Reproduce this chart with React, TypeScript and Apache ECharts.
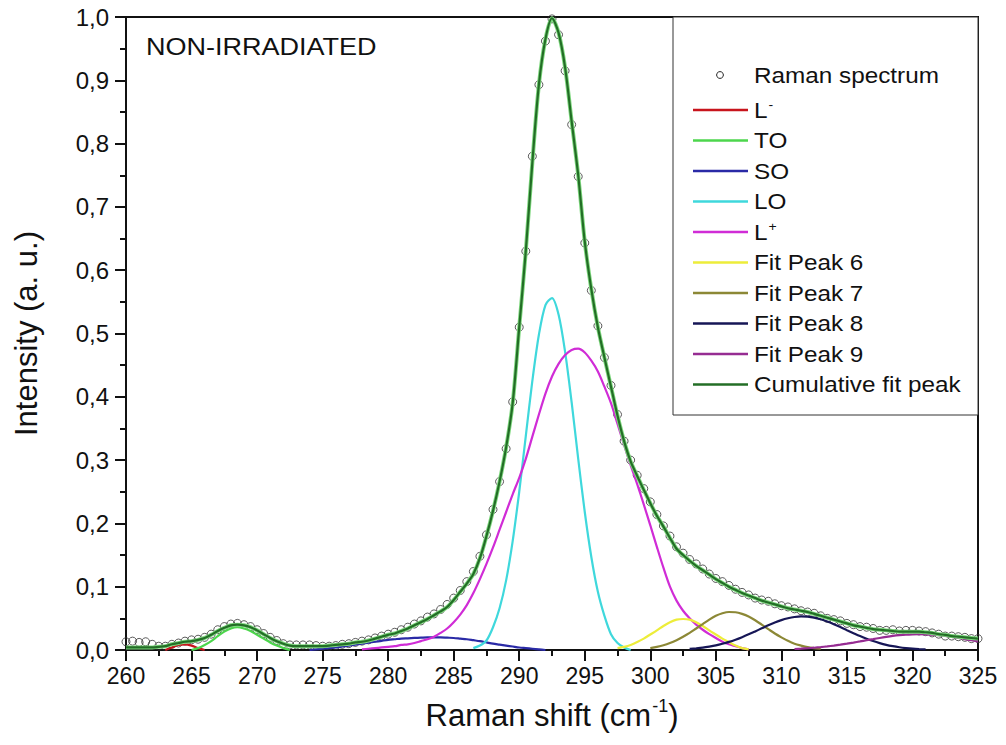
import { useEffect, useRef } from 'react';
import * as echarts from 'echarts';

const STEP = 0.5;

const xTicks = [260, 265, 270, 275, 280, 285, 290, 295, 300, 305, 310, 315, 320, 325];
const yTicks = [0, 0.1, 0.2, 0.3, 0.4, 0.5, 0.6, 0.7, 0.8, 0.9, 1.0];

// Raman spectrum (open circles), sampled every 0.5 cm-1 from 260
const ramanStart = 260;
const ramanSpectrum = [
  0.013, 0.014, 0.012, 0.013, 0.009, 0.006, 0.006, 0.009, 0.011, 0.014,
  0.016, 0.017, 0.020, 0.025, 0.032, 0.037, 0.041, 0.042, 0.040, 0.037,
  0.032, 0.026, 0.020, 0.015, 0.010, 0.008, 0.008, 0.008, 0.008, 0.007,
  0.006, 0.006, 0.007, 0.009, 0.010, 0.012, 0.014, 0.016, 0.019, 0.022,
  0.025, 0.028, 0.032, 0.036, 0.041, 0.046, 0.052, 0.057, 0.064, 0.072,
  0.082, 0.094, 0.108, 0.124, 0.148, 0.182, 0.222, 0.266, 0.318, 0.392,
  0.510, 0.630, 0.780, 0.893, 0.962, 0.997, 0.972, 0.915, 0.830, 0.748,
  0.643, 0.568, 0.512, 0.462, 0.418, 0.372, 0.330, 0.300, 0.276, 0.255,
  0.234, 0.214, 0.196, 0.180, 0.163, 0.153, 0.143, 0.136, 0.128, 0.120,
  0.113, 0.108, 0.102, 0.096, 0.091, 0.087, 0.082, 0.079, 0.077, 0.073,
  0.070, 0.068, 0.065, 0.062, 0.060, 0.058, 0.054, 0.050, 0.048, 0.046,
  0.042, 0.040, 0.037, 0.036, 0.034, 0.031, 0.031, 0.032, 0.030, 0.031,
  0.031, 0.030, 0.029, 0.027, 0.025, 0.022, 0.022, 0.021, 0.020, 0.018,
  0.018,
];

// Cumulative fit peak
const cumulativeStart = 260;
const cumulativeFit = [
  0.004, 0.004, 0.004, 0.004, 0.004, 0.005, 0.006, 0.009, 0.011, 0.013,
  0.014, 0.016, 0.019, 0.024, 0.030, 0.035, 0.039, 0.040, 0.039, 0.036,
  0.031, 0.025, 0.019, 0.014, 0.010, 0.007, 0.006, 0.006, 0.006, 0.006,
  0.006, 0.007, 0.008, 0.009, 0.010, 0.012, 0.013, 0.015, 0.018, 0.021,
  0.024, 0.026, 0.030, 0.034, 0.039, 0.044, 0.049, 0.055, 0.061, 0.068,
  0.079, 0.092, 0.105, 0.120, 0.145, 0.180, 0.220, 0.266, 0.320, 0.390,
  0.510, 0.630, 0.770, 0.893, 0.965, 0.998, 0.975, 0.920, 0.835, 0.750,
  0.645, 0.570, 0.510, 0.462, 0.416, 0.370, 0.330, 0.298, 0.275, 0.253,
  0.232, 0.212, 0.195, 0.177, 0.160, 0.150, 0.141, 0.133, 0.126, 0.119,
  0.112, 0.106, 0.100, 0.095, 0.090, 0.086, 0.082, 0.078, 0.075, 0.072,
  0.069, 0.066, 0.064, 0.062, 0.060, 0.057, 0.054, 0.051, 0.048, 0.045,
  0.042, 0.039, 0.037, 0.035, 0.033, 0.032, 0.031, 0.030, 0.029, 0.029,
  0.029, 0.029, 0.028, 0.027, 0.025, 0.024, 0.022, 0.021, 0.020, 0.019,
  0.018,
];

// Fitted component peaks (start position, values every 0.5 cm-1)
const lMinusStart = 263;
const lMinus = [0, 0.004, 0.008, 0.009, 0.007, 0.003, 0];

const toStart = 265;
const toPeak = [0, 0.003, 0.008, 0.014, 0.022, 0.029, 0.034, 0.036, 0.034, 0.030, 0.024, 0.018, 0.012, 0.007, 0.003, 0];

const soStart = 274;
const soPeak = [
  0, 0.001, 0.002, 0.003, 0.004, 0.0055, 0.007, 0.0085, 0.010, 0.0115,
  0.013, 0.0145, 0.016, 0.017, 0.018, 0.0185, 0.019, 0.0195, 0.020, 0.020,
  0.020, 0.0195, 0.019, 0.018, 0.017, 0.0155, 0.014, 0.012, 0.010, 0.0085,
  0.007, 0.0055, 0.004, 0.003, 0.002, 0.001, 0,
];

const loStart = 286.5;
const loPeak = [
  0.003, 0.007, 0.015, 0.036, 0.066, 0.110, 0.172, 0.250, 0.338, 0.425,
  0.498, 0.545, 0.556, 0.530, 0.471, 0.391, 0.302, 0.218, 0.147, 0.092,
  0.054, 0.025, 0.011, 0.004, 0,
];

const lPlusStart = 278;
const lPlusPeak = [
  0.001, 0.002, 0.003, 0.004, 0.005, 0.006, 0.008, 0.009, 0.011, 0.014,
  0.017, 0.021, 0.027, 0.034, 0.044, 0.056, 0.071, 0.090, 0.112, 0.136,
  0.162, 0.190, 0.218, 0.246, 0.272, 0.302, 0.337, 0.372, 0.405, 0.432,
  0.452, 0.466, 0.474, 0.476, 0.470, 0.457, 0.440, 0.416, 0.390, 0.357,
  0.324, 0.292, 0.262, 0.230, 0.197, 0.163, 0.130, 0.100, 0.078, 0.062,
  0.050, 0.040, 0.032, 0.025, 0.019, 0.013, 0.009, 0.006, 0.003, 0.001,
];

const peak6Start = 297.5;
const peak6 = [
  0.003, 0.005, 0.008, 0.0125, 0.018, 0.0245, 0.031, 0.038, 0.044, 0.048,
  0.049, 0.048, 0.044, 0.038, 0.031, 0.0245, 0.018, 0.0125, 0.007, 0.003,
  0.001,
];

const peak7Start = 300;
const peak7 = [
  0.003, 0.005, 0.0075, 0.011, 0.0155, 0.021, 0.027, 0.034, 0.041, 0.048,
  0.054, 0.058, 0.060, 0.0596, 0.057, 0.053, 0.047, 0.040, 0.033, 0.026,
  0.020, 0.0145, 0.010, 0.007, 0.0045, 0.003, 0.002,
];

const peak8Start = 303;
const peak8 = [
  0.0018, 0.0027, 0.0038, 0.0054, 0.0073, 0.0098, 0.0128, 0.0163, 0.0203, 0.0247,
  0.0294, 0.0342, 0.039, 0.0434, 0.0472, 0.0501, 0.0521, 0.053, 0.0526, 0.0511,
  0.0485, 0.045, 0.0408, 0.0362, 0.0313, 0.0266, 0.022, 0.0178, 0.0141, 0.0109,
  0.0082, 0.0061, 0.0044, 0.0031, 0.0021, 0.0014, 0.0009,
];

const peak9Start = 311;
const peak9 = [
  0.0016, 0.0021, 0.0028, 0.0036, 0.0046, 0.0057, 0.007, 0.0084, 0.010, 0.0117,
  0.0135, 0.0154, 0.0172, 0.019, 0.0207, 0.0222, 0.0234, 0.0243, 0.0248, 0.025,
  0.0248, 0.0243, 0.0234, 0.0222, 0.0207, 0.019, 0.0172, 0.0154, 0.0135,
];

const FONT = "'Liberation Sans', Arial, Helvetica, sans-serif";

const toPairs = (start: number, vals: number[]) => vals.map((v, i) => [start + i * STEP, v]);

type Comp = { name: string; rich: string; color: string; start: number; values: number[] };

const components: Comp[] = [
  { name: 'L-', rich: '{t|L}{s|-}', color: '#c8141c', start: lMinusStart, values: lMinus },
  { name: 'TO', rich: '{t|TO}', color: '#4cd64c', start: toStart, values: toPeak },
  { name: 'SO', rich: '{t|SO}', color: '#2a2aa6', start: soStart, values: soPeak },
  { name: 'LO', rich: '{t|LO}', color: '#3fd8dc', start: loStart, values: loPeak },
  { name: 'L+', rich: '{t|L}{s|+}', color: '#d02cd6', start: lPlusStart, values: lPlusPeak },
  { name: 'Fit Peak 6', rich: '{t|Fit Peak 6}', color: '#eded3a', start: peak6Start, values: peak6 },
  { name: 'Fit Peak 7', rich: '{t|Fit Peak 7}', color: '#8c8836', start: peak7Start, values: peak7 },
  { name: 'Fit Peak 8', rich: '{t|Fit Peak 8}', color: '#161656', start: peak8Start, values: peak8 },
  { name: 'Fit Peak 9', rich: '{t|Fit Peak 9}', color: '#962c92', start: peak9Start, values: peak9 },
];

const cumulativeColor = '#236e26';

export default function App() {
  const ref = useRef<HTMLDivElement>(null);

  useEffect(() => {
    if (!ref.current) return;
    const chart = echarts.init(ref.current, null, { renderer: 'svg' });

    const legendX = 673;
    const legendTop = 17;
    const lineX1 = 693;
    const lineX2 = 748;
    const textX = 754;
    const rowStart = 110;
    const rowGap = 30.5;
    const legendFont = 22.5;
    const legendStretch = 1.08;

    const richStyle = {
      t: { fontSize: legendFont, fontFamily: FONT, fill: '#111', color: '#111' },
      s: { fontSize: 13, fontFamily: FONT, fill: '#111', color: '#111', verticalAlign: 'top', padding: [0, 0, 8, 1] },
    };

    const legendEls: any[] = [
      {
        type: 'rect',
        shape: { x: legendX, y: legendTop, width: 978 - legendX, height: 398 },
        style: { fill: '#fff', stroke: '#333', lineWidth: 1 },
        z: 10,
      },
      {
        type: 'circle',
        shape: { cx: 720, cy: 75, r: 3.4 },
        style: { fill: '#fff', stroke: '#222', lineWidth: 1 },
        z: 11,
      },
      {
        type: 'text',
        x: textX,
        y: 75,
        scaleX: legendStretch,
        style: { text: 'Raman spectrum', fontSize: legendFont, fontFamily: FONT, fill: '#111', verticalAlign: 'middle' },
        z: 11,
      },
    ];

    const allRows = [
      ...components.map((c) => ({ rich: c.rich, color: c.color })),
      { rich: '{t|Cumulative fit peak}', color: cumulativeColor },
    ];
    allRows.forEach((r, i) => {
      const y = rowStart + i * rowGap;
      legendEls.push({
        type: 'line',
        shape: { x1: lineX1, y1: y, x2: lineX2, y2: y },
        style: { stroke: r.color, lineWidth: 2.5 },
        z: 11,
      });
      legendEls.push({
        type: 'text',
        x: textX,
        y: y,
        scaleX: legendStretch,
        style: { text: r.rich, rich: richStyle, verticalAlign: 'middle', fill: '#111' },
        z: 11,
      });
    });

    legendEls.push({
      type: 'text',
      x: 146,
      y: 47,
      scaleX: 1.15,
      style: { text: 'NON-IRRADIATED', fontSize: 23.5, fontFamily: FONT, fill: '#111', verticalAlign: 'middle' },
      z: 11,
    });

    const series: any[] = [
      {
        name: 'Raman spectrum',
        type: 'scatter',
        data: toPairs(ramanStart, ramanSpectrum),
        symbol: 'circle',
        symbolSize: 8,
        itemStyle: { color: 'rgba(255,255,255,0)', borderColor: '#333', borderWidth: 1 },
        z: 2,
      },
      ...components.map((c) => ({
        name: c.name,
        type: 'line',
        data: toPairs(c.start, c.values),
        showSymbol: false,
        smooth: 0.3,
        lineStyle: { color: c.color, width: 2.2 },
        z: 3,
      })),
      {
        name: 'Cumulative halo',
        type: 'line',
        data: toPairs(cumulativeStart, cumulativeFit),
        showSymbol: false,
        smooth: 0.3,
        lineStyle: { color: '#7fd87f', width: 4 },
        z: 4,
      },
      {
        name: 'Cumulative fit peak',
        type: 'line',
        data: toPairs(cumulativeStart, cumulativeFit),
        showSymbol: false,
        smooth: 0.3,
        lineStyle: { color: cumulativeColor, width: 2.2 },
        z: 5,
      },
    ];

    chart.setOption({
      animation: false,
      backgroundColor: '#fff',
      textStyle: { fontFamily: FONT },
      grid: {
        left: 126,
        right: 28,
        top: 17,
        bottom: 95,
        show: true,
        borderColor: '#111',
        borderWidth: 2,
        backgroundColor: 'transparent',
      },
      xAxis: {
        type: 'value',
        min: xTicks[0],
        max: xTicks[xTicks.length - 1],
        interval: 5,
        name: '{a|Raman shift (cm}{b|-1}{a|)}',
        nameLocation: 'middle',
        nameGap: 47,
        nameTextStyle: {
          rich: {
            a: { fontSize: 31, fontFamily: FONT, color: '#111', lineHeight: 36 },
            b: { fontSize: 18, fontFamily: FONT, color: '#111', verticalAlign: 'top', lineHeight: 36, padding: [0, 0, 0, 1] },
          },
        },
        axisLine: { show: true, onZero: false, lineStyle: { color: '#111', width: 2 } },
        axisTick: { show: true, inside: false, length: 11, lineStyle: { color: '#111', width: 2 } },
        minorTick: { show: true, splitNumber: 2, length: 6, lineStyle: { color: '#111', width: 2 } },
        axisLabel: { fontSize: 23, color: '#111', margin: 14, fontFamily: FONT },
        splitLine: { show: false },
        minorSplitLine: { show: false },
      },
      yAxis: {
        type: 'value',
        min: yTicks[0],
        max: yTicks[yTicks.length - 1],
        interval: 0.1,
        name: 'Intensity (a. u.)',
        nameLocation: 'middle',
        nameGap: 84,
        nameRotate: 90,
        nameTextStyle: { fontSize: 31, color: '#111', fontFamily: FONT },
        axisLine: { show: true, onZero: false, lineStyle: { color: '#111', width: 2 } },
        axisTick: { show: true, inside: false, length: 11, lineStyle: { color: '#111', width: 2 } },
        minorTick: { show: true, splitNumber: 2, length: 6, lineStyle: { color: '#111', width: 2 } },
        axisLabel: {
          fontSize: 24,
          color: '#111',
          margin: 17,
          fontFamily: FONT,
          formatter: (v: number) => v.toFixed(1).replace('.', ','),
        },
        splitLine: { show: false },
        minorSplitLine: { show: false },
      },
      graphic: legendEls,
      series,
    });

    return () => chart.dispose();
  }, []);

  return <div ref={ref} style={{ position: 'fixed', left: 0, top: 0, width: 1006, height: 745 }} />;
}
